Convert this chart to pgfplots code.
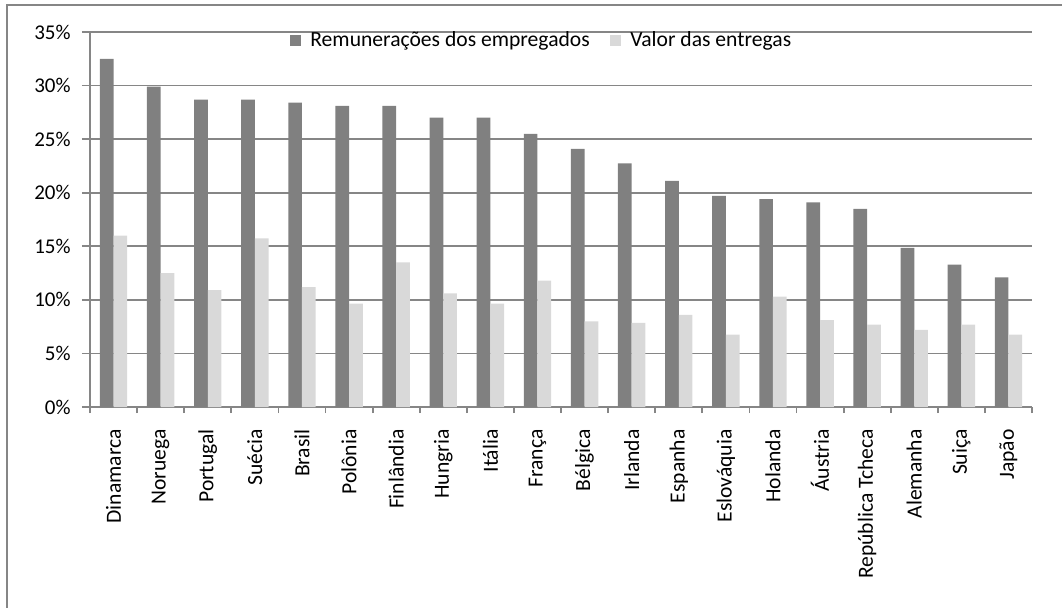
\documentclass[border=0pt]{standalone}
\usepackage{fontspec}
\setmainfont{Carlito}
\usepackage{pgfplots}
\pgfplotsset{compat=1.18}
\definecolor{dk}{HTML}{808080}
\definecolor{lt}{HTML}{D9D9D9}
\definecolor{gr}{HTML}{868686}
\begin{document}
\begin{tikzpicture}
\path[use as bounding box] (0,0) rectangle (531pt,-303.5pt);
\draw[gr, line width=0.9pt] (3.5pt,-320pt) -- (3.5pt,-2.5pt) -- (560pt,-2.5pt);
\begin{axis}[
  at={(45pt,-203.5pt)}, anchor=south west,
  scale only axis, width=471pt, height=187.5pt,
  ybar=0pt, bar width=6.85pt,
  xmin=-0.5, xmax=19.5, ymin=0, ymax=35,
  ytick={0,5,...,35},
  yticklabel={\pgfmathprintnumber{\tick}\%},
  xtick={0,...,19},
  xticklabels={Dinamarca,Noruega,Portugal,Suécia,Brasil,Polônia,Finlândia,Hungria,Itália,França,Bélgica,Irlanda,Espanha,Eslováquia,Holanda,Áustria,República Tcheca,Alemanha,Suiça,Japão},
  minor xtick={-0.5,0.5,...,19.5},
  every major x tick/.append style={draw=none},
  axis x line*=bottom, axis y line*=left,
  axis line style={gr, line width=0.9pt},
  ymajorgrids, grid style={gr, line width=0.9pt},
  tick align=outside, major tick length=4pt, minor tick length=3pt,
  tick style={gr, line width=0.9pt},
  xticklabel style={yshift=-7pt, rotate=90, anchor=east, inner sep=0pt, font=\fontsize{10.8}{13}\selectfont},
  yticklabel style={inner sep=0pt, xshift=-5.5pt, font=\fontsize{10.5}{13}\selectfont},
  /pgf/number format/assume math mode=true,
  legend style={at={(0.2123,0.9776)}, anchor=west, draw=none, fill=none,
    legend columns=2, inner sep=0pt, font=\fontsize{10.8}{13}\selectfont,
    /tikz/every even column/.append style={column sep=8.3pt}},
  legend image code/.code={\fill[#1] (0pt,-2.65pt) rectangle (5.3pt,2.65pt); \path (8pt,0pt);},
]
\addplot[fill=dk, draw=none] coordinates {
(0,32.5) (1,29.9) (2,28.7) (3,28.7) (4,28.4) (5,28.1) (6,28.1) (7,27.0) (8,27.0) (9,25.5)
(10,24.1) (11,22.75) (12,21.1) (13,19.7) (14,19.4) (15,19.1) (16,18.5) (17,14.85) (18,13.3) (19,12.1)};
\addplot[fill=lt, draw=none] coordinates {
(0,16.0) (1,12.5) (2,10.9) (3,15.75) (4,11.2) (5,9.65) (6,13.5) (7,10.6) (8,9.65) (9,11.8)
(10,8.0) (11,7.85) (12,8.6) (13,6.75) (14,10.3) (15,8.1) (16,7.7) (17,7.2) (18,7.7) (19,6.75)};
\legend{Remunerações dos empregados, Valor das entregas}
\end{axis}
\end{tikzpicture}
\end{document}
